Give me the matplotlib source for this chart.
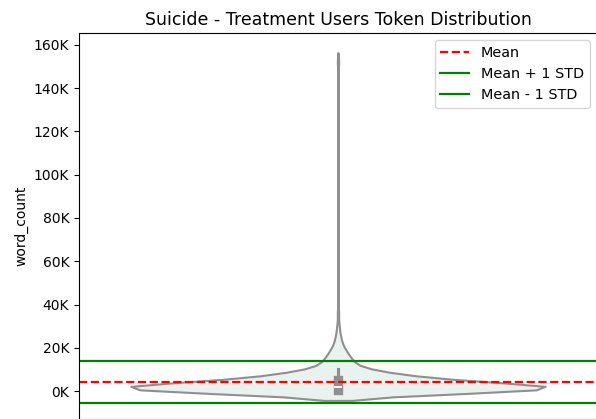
import numpy as np
import matplotlib
matplotlib.use("Agg")
import matplotlib.pyplot as plt
import seaborn as sns
from matplotlib.ticker import FuncFormatter

# word count levels and how many users fall at each level
word_levels = [100, 400, 800, 1200, 1600, 2000, 2500, 3000, 3500, 4000, 4500, 5000,
               6000, 7000, 8000, 9000, 10000, 12500, 14000, 16000, 18000, 20000,
               23000, 26000, 30000, 36000, 45000, 59000, 78000, 152000]
user_counts = [150, 100, 70, 60, 60, 60, 50, 50, 45, 40, 35, 30,
               50, 40, 30, 25, 20, 18, 15, 12, 10, 8,
               6, 4, 3, 2, 1, 1, 1, 2]

# summary lines
mean_wc = 4200
std_wc = 9650

word_count = np.repeat(word_levels, user_counts)

fig = plt.figure(figsize=(5.96, 4.19), dpi=100)
ax = fig.add_axes([79 / 596, 0, 518 / 596, 386 / 419])

sns.violinplot(y=word_count, ax=ax, color="#eaf2ef", saturation=1,
               linecolor="#8f8f8f", linewidth=1.5, inner="box", cut=2,
               bw_method=2200 / np.std(word_count, ddof=1))

ax.axhline(mean_wc, color="red", linestyle="--", linewidth=1.6, label="Mean")
ax.axhline(mean_wc + std_wc, color="green", linewidth=1.6, label="Mean + 1 STD")
ax.axhline(mean_wc - std_wc, color="green", linewidth=1.6, label="Mean - 1 STD")

ax.set_ylim(-12900, 165500)
ax.set_yticks(range(0, 160001, 20000))
ax.yaxis.set_major_formatter(FuncFormatter(lambda v, p: f"{v / 1000:.0f}K"))
ax.set_xticks([])
ax.set_ylabel("word_count")
ax.set_title("Suicide - Treatment Users Token Distribution", fontsize=12.5)
ax.legend(loc="upper right", fontsize=10.4)

fig.savefig("out.png", dpi=100)
